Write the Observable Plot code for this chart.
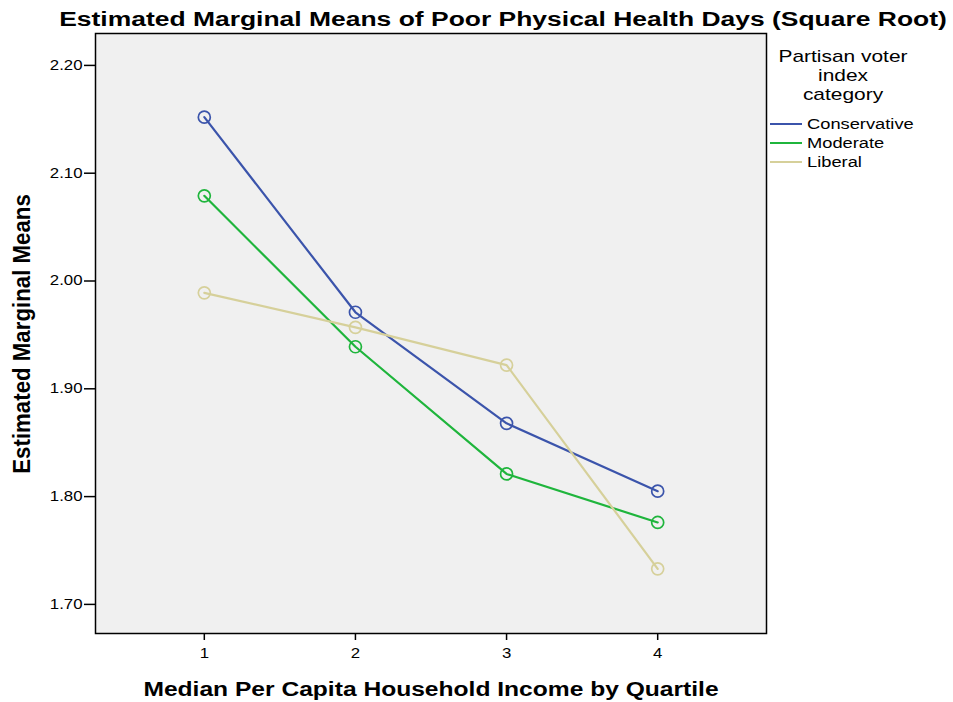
<!DOCTYPE html>
<html>
<head>
<meta charset="utf-8">
<script src="https://cdn.jsdelivr.net/npm/d3@7"></script>
<script src="https://cdn.jsdelivr.net/npm/@observablehq/plot@0.6"></script>
<style>
  html, body { margin: 0; padding: 0; background: #ffffff; }
  #chart svg { display: block; }
</style>
</head>
<body>
<div id="chart"></div>
<script>
const quartiles = [1, 2, 3, 4];
const categories = ["Conservative", "Moderate", "Liberal"];
const conservative = [2.152, 1.971, 1.868, 1.805];
const moderate = [2.079, 1.939, 1.821, 1.776];
const liberal = [1.989, 1.957, 1.922, 1.733];
const colors = ["#3b54ab", "#1fb53c", "#d6d09a"];
const yTicks = [1.70, 1.80, 1.90, 2.00, 2.10, 2.20];

const seriesValues = [conservative, moderate, liberal];
const data = [];
categories.forEach((c, i) => {
  quartiles.forEach((q, j) => data.push({category: c, quartile: q, value: seriesValues[i][j]}));
});

const W = 953, H = 702;
const mL = 95, mR = 187, mT = 33, mB = 69;
const FONT = "Liberation Sans, Arial, sans-serif";
const SX = 1.2; // horizontal stretch of the reference text

const chart = Plot.plot({
  width: W,
  height: H,
  marginLeft: mL,
  marginRight: mR,
  marginTop: mT,
  marginBottom: mB,
  style: {fontFamily: FONT, background: "#ffffff", fontSize: "14px"},
  x: {domain: [0.28, 4.72], ticks: quartiles, tickFormat: d3.format("d"), label: null},
  y: {domain: [1.673, 2.2296], ticks: yTicks, tickFormat: d3.format(".2f"), label: null},
  color: {domain: categories, range: colors},
  marks: [
    Plot.frame({fill: "#f0f0f0"}),
    Plot.line(data, {x: "quartile", y: "value", z: "category", stroke: "category", strokeWidth: 2.2}),
    Plot.dot(data, {x: "quartile", y: "value", stroke: "category", r: 6, strokeWidth: 1.7, fill: "none"}),
    Plot.frame({stroke: "#000", strokeWidth: 1.5}),
    Plot.axisX({ticks: quartiles, tickFormat: d3.format("d"), tickSize: 7, tickPadding: 8, stroke: "#000", strokeWidth: 1.5, label: null}),
    Plot.axisY({ticks: yTicks, tickFormat: d3.format(".2f"), tickSize: 11, tickPadding: 2, stroke: "#000", strokeWidth: 1.5, label: null})
  ]
});

document.getElementById("chart").appendChild(chart);

const svg = d3.select(chart);
svg.selectAll("g[aria-label='x-axis tick label'] text, g[aria-label='y-axis tick label'] text")
  .attr("font-size", 14).attr("fill", "#000")
  .each(function() {
    const tr = this.getAttribute("transform") || "";
    this.setAttribute("transform", tr + ` scale(${SX},1)`);
  });

function addText(opts, str) {
  const t = svg.append("text")
    .attr("font-family", FONT)
    .attr("fill", "#000")
    .attr("text-anchor", opts.anchor || "start")
    .attr("transform", opts.transform);
  for (const k of ["font-size", "font-weight"]) {
    if (opts[k] != null) t.attr(k, opts[k]);
  }
  t.text(str);
  return t;
}

// Title
addText({transform: `translate(503,26) scale(1.26,1)`, anchor: "middle", "font-size": 21, "font-weight": "bold"},
  "Estimated Marginal Means of Poor Physical Health Days (Square Root)");

// X axis title
addText({transform: `translate(431,696) scale(1.23,1)`, anchor: "middle", "font-size": 20, "font-weight": "bold"},
  "Median Per Capita Household Income by Quartile");

// Y axis title
addText({transform: "translate(30,334) rotate(-90) scale(1.06,1.15)", anchor: "middle", "font-size": 21, "font-weight": "bold"},
  "Estimated Marginal Means");

// Legend
const legendTitle = ["Partisan voter", "index", "category"];
legendTitle.forEach((t, i) => {
  addText({transform: `translate(843,${62 + i * 19}) scale(1.23,1)`, anchor: "middle", "font-size": 17}, t);
});
categories.forEach((c, i) => {
  const y = 124 + i * 19;
  svg.append("line")
    .attr("x1", 770).attr("x2", 802).attr("y1", y).attr("y2", y)
    .attr("stroke", colors[i]).attr("stroke-width", 2);
  addText({transform: `translate(807,${y + 5}) scale(1.22,1)`, anchor: "start", "font-size": 15}, c);
});
</script>
</body>
</html>
